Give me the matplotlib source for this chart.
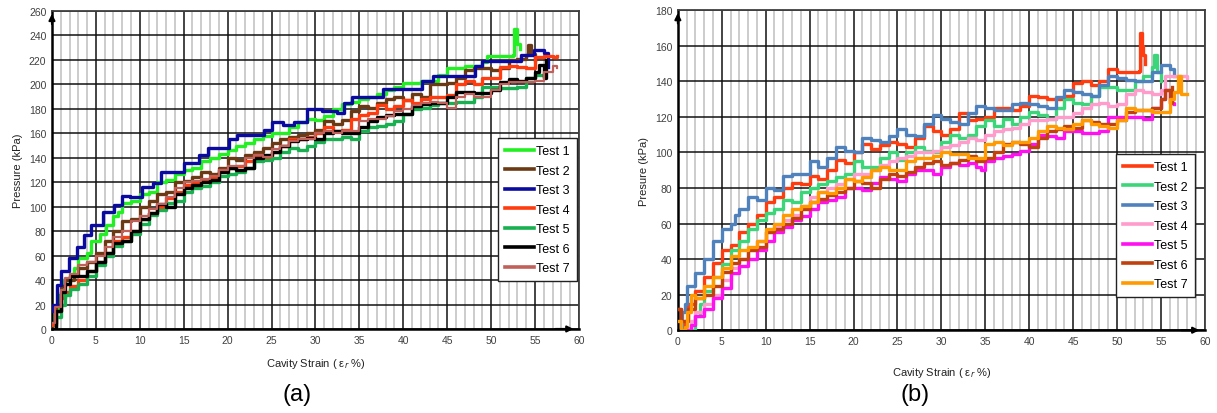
import matplotlib
matplotlib.use("Agg")
import matplotlib.pyplot as plt
from matplotlib.ticker import MultipleLocator

plt.rcParams.update({
    "font.family": ["Liberation Sans", "DejaVu Sans"],
    "font.size": 8,
})

# ---- panel (a): pressure vs cavity strain, 7 tests ----
A_LABELS = ["Test 1", "Test 2", "Test 3", "Test 4", "Test 5", "Test 6", "Test 7"]
A_COLORS = ["#22f022", "#6b3a14", "#0a0aa0", "#ff3c10", "#18b050", "#000000", "#c0605a"]

a1_x = [0, 0.4, 0.8, 1.3, 2, 2.5, 3, 4, 4.5, 5.5, 6.2, 7, 7.5, 8, 9, 10, 11, 12, 13, 14, 15, 16, 17, 18,
        19, 20, 21, 22, 23, 24, 25, 26, 27, 28, 29, 30, 31, 32, 33, 34, 35, 36, 37, 38, 39, 40, 42, 44,
        45, 47, 49, 49.5, 51, 52.5, 52.6, 53, 53.3]
a1_y = [3, 15, 28, 40, 45, 50, 58, 62, 72, 78, 85, 92, 96, 103, 105, 110, 112, 120, 122, 127, 130, 132,
        137, 140, 143, 146, 150, 152, 155, 158, 160, 160, 165, 169, 172, 171, 174, 180, 184, 186, 188,
        190, 192, 195, 198, 201, 203, 208, 213, 215, 218, 223, 223, 224, 245, 233, 229]

a2_x = [0, 0.5, 1, 1.5, 2.5, 3, 4, 5, 6, 7, 8, 9, 10, 11, 12, 13, 14, 15, 16, 17, 18, 19, 20, 21, 22,
        23, 24, 25, 26, 27, 28, 29, 30, 31, 32, 33, 34, 35, 36, 37, 38, 39, 40, 41, 42, 43, 45, 46, 47,
        48, 50, 51, 52, 53, 54, 54.2, 54.5, 55]
a2_y = [5, 20, 35, 40, 43, 50, 55, 62, 72, 80, 88, 90, 100, 105, 110, 112, 120, 121, 124, 128, 127, 132,
        140, 138, 142, 145, 148, 152, 155, 157, 159, 160, 163, 170, 168, 171, 178, 182, 181, 185, 188,
        190, 187, 192, 190, 200, 201, 205, 212, 213, 212, 213, 220, 221, 224, 232, 225, 220]

a3_x = [0, 0.1, 0.6, 1.0, 1.9, 2.8, 3.6, 4.5, 5.8, 7.1, 8.0, 8.9, 10.2, 11.5, 12.4, 14.1, 15.0, 15.9,
        16.7, 17.8, 19.3, 20.2, 21.1, 22.8, 24.1, 25.0, 26.3, 27.6, 29.0, 30.7, 32.4, 33.3, 34.2, 35.9,
        37.7, 40.3, 42.1, 43.4, 46.4, 48.2, 49.0, 52.5, 53.4, 54.9, 56.0, 56.5]
a3_y = [15, 20, 36, 47, 58, 67, 77, 85, 96, 101, 109, 108, 116, 119, 128, 128, 136, 136, 142, 148, 148,
        155, 159, 159, 163, 169, 167, 169, 180, 178, 177, 185, 190, 190, 196, 196, 203, 207, 207, 215,
        219, 219, 224, 228, 226, 214]

a4_x = [0, 0.5, 1, 1.5, 2, 3, 4, 5, 6, 7, 8, 9, 10, 11, 12, 13, 14, 15, 16, 17, 18, 19, 20, 21, 22, 23,
        24, 25, 26, 27, 28, 29, 30, 31, 32, 33, 34, 35, 36, 37, 38, 39, 40, 41, 42, 43, 45, 46, 47, 48,
        49, 50, 51, 52, 53, 54, 55, 56, 57, 57.5]
a4_y = [3, 15, 25, 30, 35, 40, 47, 55, 62, 72, 75, 80, 90, 95, 100, 107, 112, 118, 120, 122, 124, 130,
        132, 133, 137, 142, 140, 145, 150, 155, 155, 157, 160, 165, 162, 163, 172, 175, 177, 183, 180,
        182, 187, 185, 188, 190, 191, 200, 203, 200, 205, 205, 214, 215, 214, 213, 222, 223, 222, 223]

a5_x = [0, 0.5, 1, 1.5, 2, 3, 4, 5, 6, 7, 8, 9, 10, 11, 12, 13, 14, 15, 16, 17, 18, 19, 20, 21, 22, 23,
        24, 25, 26, 27, 28, 29, 30, 31, 32, 33, 34, 35, 36, 37, 38, 39, 40, 41, 42, 43, 44, 46, 48, 49,
        51, 53, 54, 55, 56]
a5_y = [0, 10, 20, 28, 33, 37, 43, 52, 60, 68, 72, 78, 86, 93, 97, 103, 105, 112, 115, 117, 120, 125,
        127, 128, 132, 137, 138, 140, 145, 148, 146, 150, 153, 155, 155, 157, 155, 162, 165, 166, 168,
        170, 176, 180, 181, 183, 185, 186, 190, 198, 197, 198, 205, 208, 207]

a6_x = [0, 0.5, 1, 1.5, 2, 3, 4, 5, 6, 7, 8, 9, 10, 11, 12, 13, 14, 15, 16, 17, 18, 19, 20, 21, 22, 23,
        24, 25, 26, 27, 28, 29, 30, 31, 32, 33, 34, 35, 36, 37, 38, 39, 40, 41, 42, 43, 45, 46, 48, 50,
        51, 52, 53, 54, 55, 55.5, 56, 56.3]
a6_y = [0, 15, 30, 37, 43, 43, 47, 55, 62, 70, 72, 80, 90, 95, 102, 100, 110, 115, 118, 120, 122, 128,
        132, 130, 132, 140, 142, 145, 150, 154, 155, 156, 155, 160, 162, 160, 160, 165, 170, 173, 175,
        176, 176, 182, 184, 185, 190, 194, 193, 195, 202, 204, 203, 205, 210, 216, 205, 220]

a7_x = [0, 0.3, 1, 1.5, 2, 3, 4, 5, 6, 7, 8, 9, 10, 11, 12, 13, 14, 15, 16, 17, 18, 19, 20, 21, 22, 23,
        24, 25, 26, 27, 28, 29, 30, 31, 32, 33, 34, 35, 36, 37, 38, 39, 40, 41, 42, 43, 44, 45, 46, 47,
        48, 49, 50, 51, 52, 54, 55, 56, 57, 57.5]
a7_y = [5, 18, 32, 42, 45, 52, 55, 60, 67, 75, 80, 88, 92, 98, 102, 108, 115, 120, 121, 123, 125, 130,
        133, 133, 140, 142, 141, 147, 150, 154, 155, 155, 160, 162, 160, 162, 162, 170, 172, 172, 174,
        178, 180, 183, 185, 186, 185, 181, 190, 192, 190, 190, 195, 200, 202, 202, 203, 210, 215, 213]

A_X = [a1_x, a2_x, a3_x, a4_x, a5_x, a6_x, a7_x]
A_Y = [a1_y, a2_y, a3_y, a4_y, a5_y, a6_y, a7_y]

# ---- panel (b) ----
B_LABELS = A_LABELS
B_COLORS = ["#ff3c10", "#3cd67a", "#4f81bd", "#ff9ccc", "#ff10f0", "#c0400e", "#ff9a00"]

b1_x = [0, 0.3, 0.8, 1.2, 2, 3, 4, 5, 6, 7, 8, 9, 10, 11, 12, 13, 14, 15, 16, 17, 18, 19, 20, 21, 22,
        23, 24, 25, 26, 27, 28, 29, 30, 31, 32, 33, 34, 35, 36, 37, 38, 39, 40, 41, 42, 43, 44, 45, 46,
        47, 48, 49, 50, 51, 52, 52.5, 52.6, 52.8, 53, 53.2]
b1_y = [12, 2, 5, 15, 22, 30, 38, 45, 48, 55, 60, 65, 72, 75, 80, 83, 82, 87, 85, 90, 96, 94, 100, 105,
        102, 104, 106, 105, 103, 108, 115, 112, 110, 113, 122, 118, 119, 120, 125, 125, 124, 126, 132,
        131, 130, 130, 132, 139, 140, 138, 140, 147, 145, 145, 145, 146, 167, 160, 155, 150]

b2_x = [1.5, 2, 2.5, 3, 4, 5, 6, 7, 8, 9, 10, 11, 12, 13, 14, 15, 16, 17, 18, 19, 20, 21, 22, 23, 24,
        25, 26, 27, 28, 29, 30, 31, 32, 33, 34, 35, 36, 37, 38, 39, 40, 41, 42, 43, 44, 45, 46, 47, 48,
        49, 50, 51, 52, 53, 54, 54.2, 54.5, 55]
b2_y = [0, 8, 15, 22, 30, 37, 45, 50, 57, 62, 66, 68, 73, 72, 78, 80, 82, 84, 86, 88, 95, 92, 92, 97,
        100, 96, 100, 103, 101, 100, 106, 110, 108, 110, 115, 118, 115, 119, 116, 120, 123, 121, 119, 125,
        130, 128, 127, 132, 137, 137, 135, 135, 140, 143, 148, 155, 145, 140]

b3_x = [0.3, 0.5, 0.8, 1, 2, 3, 4, 5, 6, 6.5, 7, 8, 9, 10, 11, 12, 13, 14, 15, 16, 17, 18, 19, 20, 21,
        22, 23, 24, 25, 26, 27, 28, 29, 30, 31, 32, 33, 34, 35, 36, 37, 38, 39, 40, 41, 42, 43, 44, 45,
        46, 47, 48, 49, 50, 51, 52, 53, 54, 55, 56, 56.5]
b3_y = [0, 10, 15, 25, 32, 40, 50, 57, 60, 65, 68, 75, 73, 80, 79, 87, 88, 88, 95, 92, 97, 103, 101,
        100, 108, 107, 106, 109, 113, 110, 109, 116, 121, 119, 117, 116, 122, 126, 125, 124, 124, 127,
        128, 127, 126, 125, 131, 135, 134, 133, 132, 138, 143, 142, 141, 140, 140, 145, 149, 147, 143]

b4_x = [1, 1.5, 2, 3, 4, 5, 6, 7, 8, 9, 10, 11, 12, 13, 14, 15, 16, 17, 18, 19, 20, 21, 22, 23, 24, 25,
        26, 27, 28, 29, 30, 31, 32, 33, 34, 35, 36, 37, 38, 39, 40, 41, 42, 43, 44, 45, 46, 47, 48, 49,
        50, 51, 52, 53, 54, 55, 55.5, 57, 58]
b4_y = [0, 5, 10, 15, 20, 28, 35, 40, 45, 50, 55, 58, 62, 65, 70, 75, 78, 80, 82, 85, 88, 88, 90, 93,
        95, 97, 98, 100, 100, 101, 103, 104, 106, 108, 107, 110, 112, 113, 114, 116, 118, 118, 119, 120,
        120, 122, 125, 127, 128, 126, 127, 133, 135, 134, 133, 135, 143, 143, 142]

b5_x = [1, 1.5, 2, 3, 4, 5, 6, 7, 8, 9, 10, 11, 12, 13, 14, 15, 16, 17, 18, 19, 20, 21, 22, 23, 24, 25,
        26, 27, 28, 29, 30, 31, 32, 33, 34, 34.5, 35, 36, 37, 38, 39, 40, 41, 42, 43, 44, 45, 46, 47, 48,
        49, 50, 51, 53, 54, 55, 55.5, 56, 56.5]
b5_y = [0, 3, 8, 12, 18, 24, 32, 36, 40, 45, 50, 55, 58, 62, 64, 68, 72, 73, 75, 80, 80, 79, 83, 86,
        85, 84, 88, 90, 90, 88, 92, 94, 93, 94, 92, 90, 95, 97, 98, 99, 101, 105, 110, 109, 108, 112, 112,
        111, 111, 112, 120, 120, 120, 119, 125, 130, 135, 128, 127]

b6_x = [0, 0.3, 0.8, 1.2, 2, 3, 4, 5, 6, 7, 8, 9, 10, 11, 12, 13, 14, 15, 16, 17, 18, 19, 20, 21, 22,
        23, 24, 25, 26, 27, 28, 29, 30, 31, 32, 33, 34, 35, 36, 37, 38, 39, 40, 41, 42, 43, 44, 45, 46,
        47, 48, 49, 50, 51, 52, 53, 54, 55, 55.5, 56, 56.3]
b6_y = [12, 5, 5, 12, 18, 20, 25, 33, 38, 40, 45, 47, 55, 57, 60, 63, 68, 72, 74, 76, 78, 80, 84, 83,
        80, 85, 88, 87, 89, 92, 94, 95, 93, 94, 96, 98, 95, 97, 100, 105, 106, 105, 103, 108, 112, 113,
        115, 114, 118, 117, 116, 116, 118, 123, 124, 124, 125, 130, 135, 128, 137]

b7_x = [0, 0.3, 0.8, 1, 1.5, 2, 3, 4, 5, 6, 7, 8, 9, 10, 11, 12, 13, 14, 15, 16, 17, 18, 19, 20, 21,
        22, 23, 24, 25, 26, 27, 28, 29, 30, 31, 32, 33, 34, 35, 36, 37, 38, 39, 40, 41, 42, 43, 44, 45,
        46, 47, 48, 49, 50, 51, 52, 54, 55, 56, 56.5, 57, 57.3, 58]
b7_y = [5, 0, 2, 10, 20, 18, 25, 30, 35, 42, 45, 47, 50, 57, 60, 65, 68, 70, 72, 78, 77, 80, 85, 84, 86,
        90, 92, 90, 90, 95, 97, 97, 98, 100, 99, 99, 97, 97, 105, 106, 104, 106, 106, 108, 112, 115, 114,
        113, 116, 118, 116, 115, 114, 118, 125, 124, 123, 123, 130, 134, 143, 133, 133]

B_X = [b1_x, b2_x, b3_x, b4_x, b5_x, b6_x, b7_x]
B_Y = [b1_y, b2_y, b3_y, b4_y, b5_y, b6_y, b7_y]


def style_axes(ax, ymax, ystep, ylabel):
    ax.set_xlim(0, 60)
    ax.set_ylim(0, ymax)
    ax.xaxis.set_major_locator(MultipleLocator(5))
    ax.xaxis.set_minor_locator(MultipleLocator(1))
    ax.yaxis.set_major_locator(MultipleLocator(ystep))
    ax.grid(which="minor", axis="x", color="#c8c8c8", lw=1.3, zorder=0)
    ax.grid(which="major", axis="both", color="#111111", lw=1.1, zorder=0)
    ax.set_axisbelow(True)
    ax.tick_params(which="both", length=0, labelsize=7.5, labelcolor="#404040", pad=4)
    for side in ("top", "right"):
        ax.spines[side].set_color("#404040")
        ax.spines[side].set_linewidth(1.3)
    for side in ("left", "bottom"):
        ax.spines[side].set_color("black")
        ax.spines[side].set_linewidth(1.8)
    # arrow heads at the axis ends
    ax.annotate("", xy=(0, 1.0), xytext=(0, 0.95), xycoords="axes fraction",
                arrowprops=dict(arrowstyle="-|>", color="black", lw=1.5, mutation_scale=9))
    ax.annotate("", xy=(0.995, 0), xytext=(0.95, 0), xycoords="axes fraction",
                arrowprops=dict(arrowstyle="-|>", color="black", lw=1.5, mutation_scale=9))
    ax.set_ylabel(ylabel, fontsize=8, color="#222222", labelpad=4)
    ax.set_xlabel("Cavity Strain ( \u03b5$_{r}$ %)", fontsize=8, color="#222222", labelpad=8)


fig = plt.figure(figsize=(12.17, 4.14), dpi=100)
ax_a = fig.add_axes([0.0427, 0.203, 0.433, 0.768])
ax_b = fig.add_axes([0.557, 0.200, 0.433, 0.773])

for x, y, c, lab in zip(A_X, A_Y, A_COLORS, A_LABELS):
    lw = 1.6 if lab == "Test 7" else 2.4
    ax_a.step(x, y, where="post", color=c, lw=lw, label=lab, zorder=3)
for x, y, c, lab in zip(B_X, B_Y, B_COLORS, B_LABELS):
    ax_b.step(x, y, where="post", color=c, lw=2.4, label=lab, zorder=3)

style_axes(ax_a, 260, 20, "Pressure (kPa)")
style_axes(ax_b, 180, 20, "Presure (kPa)")
ax_b.xaxis.labelpad = 14

for ax, anchor in ((ax_a, (0.996, 0.60)), (ax_b, (0.981, 0.55))):
    leg = ax.legend(loc="upper right", bbox_to_anchor=anchor, borderaxespad=0, fontsize=9,
                    frameon=True, fancybox=False, framealpha=1, edgecolor="#222222",
                    handlelength=2.3, handletextpad=0.2, labelspacing=0.6, borderpad=0.55)
    leg.get_frame().set_linewidth(1.0)
    for h in leg.get_lines():
        h.set_linewidth(2.6)

fig.text(297 / 1217, 1 - 395 / 414, "(a)", fontsize=17, ha="center", va="center")
fig.text(915 / 1217, 1 - 395 / 414, "(b)", fontsize=17, ha="center", va="center")

fig.savefig("out.png", dpi=100)
